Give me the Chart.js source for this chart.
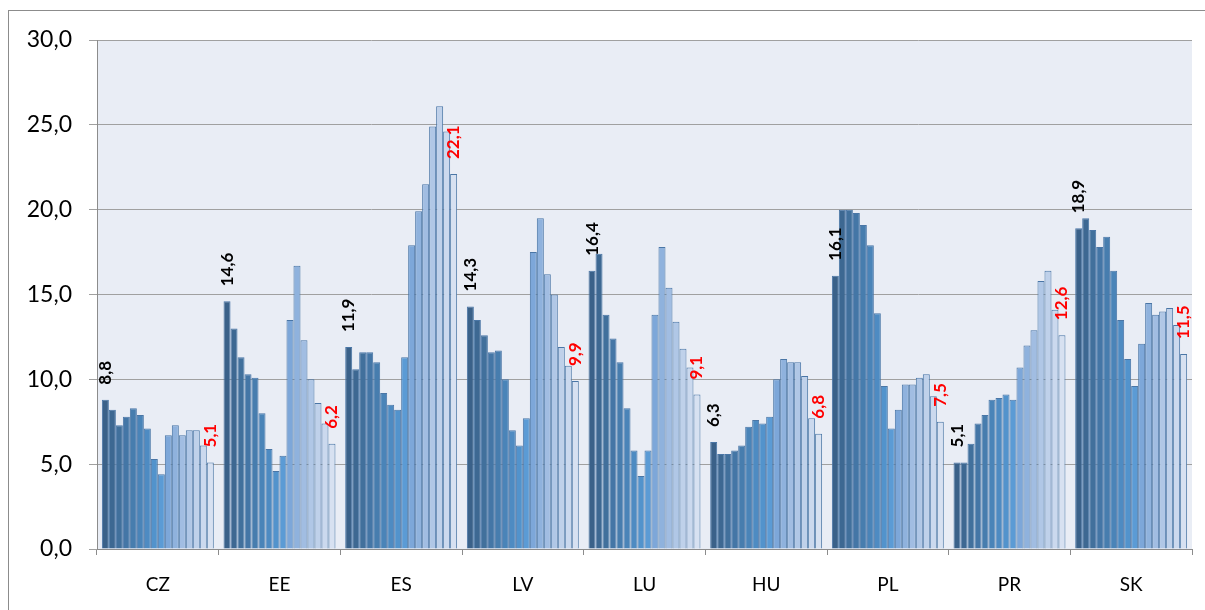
<!DOCTYPE html>
<html lang="cs">

<head>
    <meta charset="UTF-8">
    <title>Graf podle zemí</title>
    <script src="https://cdn.jsdelivr.net/npm/chart.js"></script>
    <style>
        body { margin: 0; background: #fff; overflow: hidden; }
        .ramecek { position: absolute; left: 8px; top: 10px; width: 1205px; height: 610px; border: 1px solid #8c8c8c; }
        .obal { position: absolute; left: 0; top: 0; width: 1205px; height: 610px; }
    </style>
</head>

<body>
    <div class="ramecek"></div>
    <div class="obal"><canvas id="grafico"></canvas></div>

<script>
    // categories
    const zeme = ['CZ', 'EE', 'ES', 'LV', 'LU', 'HU', 'PL', 'PR', 'SK'];

    // 16 values per country (one per series, left to right)
    const CZ = [8.8, 8.2, 7.3, 7.8, 8.3, 7.9, 7.1, 5.3, 4.4, 6.7, 7.3, 6.7, 7.0, 7.0, 6.1, 5.1];
    const EE = [14.6, 13.0, 11.3, 10.3, 10.1, 8.0, 5.9, 4.6, 5.5, 13.5, 16.7, 12.3, 10.0, 8.6, 7.4, 6.2];
    const ES = [11.9, 10.6, 11.6, 11.6, 11.0, 9.2, 8.5, 8.2, 11.3, 17.9, 19.9, 21.5, 24.9, 26.1, 24.6, 22.1];
    const LV = [14.3, 13.5, 12.6, 11.6, 11.7, 10.0, 7.0, 6.1, 7.7, 17.5, 19.5, 16.2, 15.0, 11.9, 10.8, 9.9];
    const LU = [16.4, 17.4, 13.8, 12.4, 11.0, 8.3, 5.8, 4.3, 5.8, 13.8, 17.8, 15.4, 13.4, 11.8, 10.7, 9.1];
    const HU = [6.3, 5.6, 5.6, 5.8, 6.1, 7.2, 7.6, 7.4, 7.8, 10.0, 11.2, 11.0, 11.0, 10.2, 7.7, 6.8];
    const PL = [16.1, 20.0, 20.0, 19.8, 19.1, 17.9, 13.9, 9.6, 7.1, 8.2, 9.7, 9.7, 10.1, 10.3, 9.0, 7.5];
    const PR = [5.1, 5.1, 6.2, 7.4, 7.9, 8.8, 8.9, 9.1, 8.8, 10.7, 12.0, 12.9, 15.8, 16.4, 14.1, 12.6];
    const SK = [18.9, 19.5, 18.8, 17.8, 18.4, 16.4, 13.5, 11.2, 9.6, 12.1, 14.5, 13.8, 14.0, 14.2, 13.2, 11.5];

    const hodnoty = [CZ, EE, ES, LV, LU, HU, PL, PR, SK];

    // y axis
    const yMin = 0;
    const yMax = 30;
    const yKrok = 5;

    const barvy = [
        '#3a6189', '#3d6892', '#41709c', '#4476a6', '#477dae', '#4a84b8', '#4e8bc2', '#5293cc',
        '#5b9bd5', '#7da7d9', '#8fb2dd', '#a1bde2', '#b0c7e6', '#bfd1ea', '#cbd9ee', '#d7e1f1'
    ];

    const fmt = v => v.toFixed(1).replace('.', ',');

    const datasets = barvy.map((barva, j) => ({
        label: 'Řada ' + (j + 1),
        data: hodnoty.map(z => z[j]),
        backgroundColor: barva,
        borderColor: '#4a76a6',
        borderWidth: 1,
        barPercentage: 1.0,
        categoryPercentage: 0.92
    }));

    const fundo = {
        id: 'fundo',
        beforeDraw(chart) {
            const { ctx, chartArea: a } = chart;
            ctx.save();
            ctx.fillStyle = '#e9edf5';
            ctx.fillRect(a.left, a.top, a.right - a.left, a.bottom - a.top);
            ctx.restore();
        }
    };

    // first series labelled in black, last series in red, rotated
    const popisky = {
        id: 'popisky',
        afterDatasetsDraw(chart) {
            const ctx = chart.ctx;
            const posledni = chart.data.datasets.length - 1;
            [[0, '#000000'], [posledni, '#ff0000']].forEach(([d, barva]) => {
                const meta = chart.getDatasetMeta(d);
                meta.data.forEach((bar, i) => {
                    ctx.save();
                    ctx.translate(bar.x, bar.y - 15);
                    ctx.rotate(-Math.PI / 2);
                    ctx.font = 'bold 17px Lato';
                    ctx.fillStyle = barva;
                    ctx.textAlign = 'left';
                    ctx.textBaseline = 'middle';
                    ctx.fillText(fmt(chart.data.datasets[d].data[i]), 0, 0);
                    ctx.restore();
                });
            });
        }
    };

    const ctx = document.getElementById('grafico').getContext('2d');

    new Chart(ctx, {
        type: 'bar',
        data: { labels: zeme, datasets: datasets },
        options: {
            responsive: true,
            maintainAspectRatio: false,
            animation: false,
            layout: { padding: { top: 40, right: 13, left: 0, bottom: 0 } },
            plugins: {
                legend: { display: false },
                tooltip: { enabled: false }
            },
            scales: {
                x: {
                    grid: {
                        offset: true,
                        drawOnChartArea: false,
                        color: '#8c8c8c',
                        tickLength: 6
                    },
                    border: { color: '#8c8c8c' },
                    ticks: {
                        color: '#000',
                        font: { family: 'Lato', size: 19 },
                        padding: 18
                    },
                    afterFit: s => { s.height = 61; }
                },
                y: {
                    min: yMin,
                    max: yMax,
                    ticks: {
                        stepSize: yKrok,
                        callback: v => fmt(v),
                        color: '#000',
                        font: { family: 'Lato', size: 23 },
                        padding: 17
                    },
                    grid: { color: '#a0a0a0', tickLength: 8 },
                    border: { color: '#8c8c8c' },
                    afterFit: s => { s.width = 97; }
                }
            }
        },
        plugins: [fundo, popisky]
    });
</script>
</body>

</html>
